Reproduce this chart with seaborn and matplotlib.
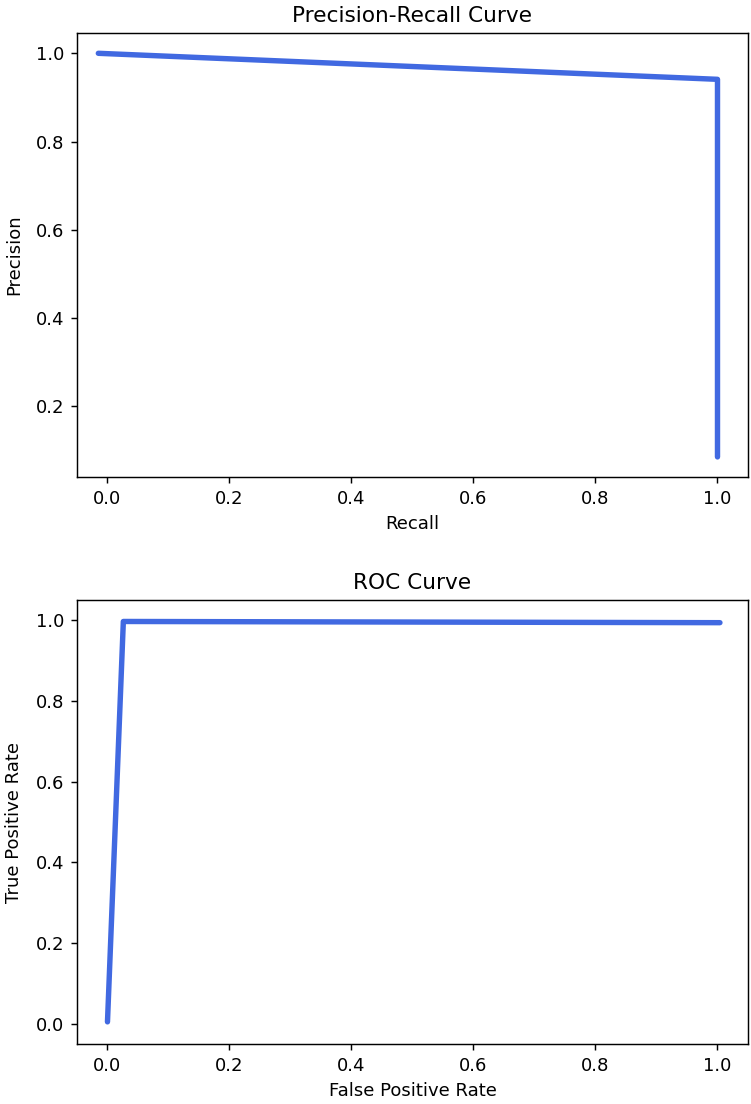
import numpy as np
import pandas as pd
import matplotlib
matplotlib.use("Agg")
import matplotlib.pyplot as plt
import seaborn as sns

# Precision-recall curve points
recall = [-0.015, 1.0, 1.0]
precision = [1.0, 0.941, 0.085]

# ROC curve points
fpr = [0.0, 0.026, 1.004]
tpr = [0.005, 0.997, 0.994]

line_color = "royalblue"


def plot_curves():
    fig, (ax1, ax2) = plt.subplots(2, 1, figsize=(751 / 130, 1104 / 130), dpi=130)
    fig.subplots_adjust(left=0.1025, right=0.996, top=0.970, bottom=0.0543,
                        hspace=0.277)

    pr_df = pd.DataFrame({"Recall": recall, "Precision": precision})
    sns.lineplot(data=pr_df, x="Recall", y="Precision", ax=ax1, sort=False,
                 estimator=None, color=line_color, linewidth=3,
                 solid_capstyle="round", solid_joinstyle="round")
    ax1.set_title("Precision-Recall Curve")
    ax1.set_xlim(-0.05, 1.05)

    roc_df = pd.DataFrame({"False Positive Rate": fpr, "True Positive Rate": tpr})
    sns.lineplot(data=roc_df, x="False Positive Rate", y="True Positive Rate",
                 ax=ax2, sort=False, estimator=None, color=line_color,
                 linewidth=3, solid_capstyle="round", solid_joinstyle="round")
    ax2.set_title("ROC Curve")
    ax2.set_xlim(-0.05, 1.05)
    ax2.set_ylim(-0.05, 1.05)

    for ax in (ax1, ax2):
        ax.set_xticks(np.arange(0, 1.01, 0.2))
        ax.yaxis.labelpad = 7

    plt.savefig("out.png", dpi=130)


plot_curves()
